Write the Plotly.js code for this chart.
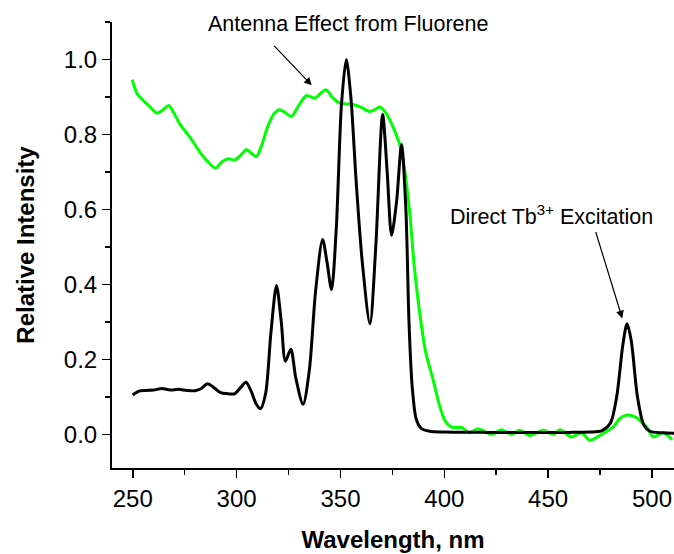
<!DOCTYPE html>
<html>
<head>
<meta charset="utf-8">
<script src="https://cdn.plot.ly/plotly-3.0.1.min.js"></script>
<style>html,body{margin:0;padding:0;background:#fff}#chart{width:674px;height:554px}</style>
</head>
<body>
<div id="chart"></div>
<script>
// Black spectrum (Tb3+ sensitized excitation)
const blackX = [250,253,256,260,264,268,272,276,280,283,286,289,292,296,299,302,304.5,307,309.5,311.5,314,316.5,319.2,321.5,323.5,326.1,328.5,332,335,338,341.4,343.5,345.7,348,350.5,352.8,355,357.5,360.5,364.2,367,370.3,372.5,374.6,377,379.4,381.5,383,384.5,386.5,389,393,400,420,440,460,470,476,480,483,486,488,490,493,496,499,505,511];
const blackY = [0.105,0.115,0.117,0.118,0.122,0.118,0.120,0.117,0.116,0.122,0.135,0.125,0.112,0.108,0.108,0.125,0.139,0.115,0.080,0.068,0.110,0.270,0.397,0.300,0.195,0.227,0.150,0.080,0.170,0.380,0.520,0.460,0.386,0.550,0.880,1.000,0.900,0.680,0.460,0.295,0.500,0.853,0.700,0.531,0.620,0.773,0.600,0.300,0.130,0.040,0.015,0.008,0.006,0.005,0.005,0.005,0.006,0.010,0.030,0.100,0.240,0.295,0.250,0.100,0.025,0.008,0.004,0.003];

// Green spectrum (fluorene antenna)
const greenX = [249.7,252,254.2,258,261.7,264.5,267.3,270,272.6,277.5,282.3,286,289.8,293,295.9,299.1,302,304.8,307,309.6,312,315.2,318,320.8,323.5,326.4,330,333.7,337.7,340.5,343,346,349.4,356.1,360,364.2,366.5,369,371.5,375.4,379.4,381.5,383.4,385.5,388.2,391,394.7,397.9,400.5,403.5,406,408.3,412.3,416.3,422.8,427.6,432.4,436.4,441.2,447.6,452.5,455.7,461.3,466.1,470.1,475.8,481.4,484.5,487.8,490,492.6,495,497.4,500.6,505.4,509.6];
const greenY = [0.946,0.910,0.895,0.875,0.857,0.865,0.877,0.855,0.828,0.793,0.753,0.728,0.710,0.727,0.735,0.732,0.745,0.760,0.750,0.741,0.770,0.824,0.855,0.866,0.858,0.848,0.878,0.904,0.897,0.910,0.919,0.900,0.884,0.880,0.872,0.861,0.866,0.873,0.860,0.819,0.757,0.680,0.589,0.450,0.322,0.220,0.144,0.073,0.035,0.019,0.018,0.018,0.004,0.015,0.000,0.012,0.000,0.011,-0.003,0.011,0.000,0.012,-0.007,0.004,-0.016,0.000,0.020,0.042,0.051,0.050,0.044,0.033,0.020,-0.007,0.004,-0.014];

const xTicks = [250,300,350,400,450,500];
const yTicks = [0.0,0.2,0.4,0.6,0.8,1.0];

const font = "Liberation Sans, Arial, sans-serif";

const traces = [
  {x: greenX, y: greenY, type: 'scatter', mode: 'lines',
   line: {color: '#00ff00', width: 3, shape: 'spline', smoothing: 0.8}, hoverinfo: 'skip'},
  {x: blackX, y: blackY, type: 'scatter', mode: 'lines',
   line: {color: '#000000', width: 3, shape: 'spline', smoothing: 0.8}, hoverinfo: 'skip'}
];

const layout = {
  width: 674, height: 554,
  margin: {l: 112, r: 0, t: 22, b: 86},
  paper_bgcolor: '#fff', plot_bgcolor: '#fff',
  showlegend: false,
  font: {family: font, color: '#000'},
  xaxis: {
    range: [240, 510.6], showgrid: false, zeroline: false,
    showline: true, linecolor: '#000', linewidth: 2, mirror: false,
    ticks: 'outside', ticklen: 8, tickwidth: 1.5, tickcolor: '#000',
    tickvals: xTicks, ticktext: xTicks.map(String),
    tickfont: {size: 24, family: font, color: '#000'},
    minor: {dtick: 25, tick0: 250, ticks: 'outside', ticklen: 5, tickwidth: 1.5, tickcolor: '#000'},
    title: {text: '<b>Wavelength, nm</b>', font: {size: 24, family: font, color: '#000'}, standoff: 20}
  },
  yaxis: {
    range: [-0.09, 1.1], showgrid: false, zeroline: false,
    showline: true, linecolor: '#000', linewidth: 2, mirror: false,
    ticks: 'outside', ticklen: 8, tickwidth: 1.5, tickcolor: '#000',
    tickvals: yTicks, ticktext: yTicks.map(v => v.toFixed(1)),
    tickfont: {size: 24, family: font, color: '#000'},
    minor: {dtick: 0.1, tick0: 0, ticks: 'outside', ticklen: 5, tickwidth: 1.5, tickcolor: '#000'},
    title: {text: '<b>Relative Intensity</b>', font: {size: 24, family: font, color: '#000'}, standoff: 22}
  },
  annotations: [
    {text: 'Antenna Effect from Fluorene', xref: 'paper', yref: 'paper',
     x: (348-112)/562, y: (554-86-24)/446, xanchor: 'center', yanchor: 'middle',
     showarrow: false, font: {size: 21.5, family: font, color: '#000'}},
    {x: 336.2, y: 0.931, xref: 'x', yref: 'y', text: '', showarrow: true,
     arrowhead: 2, arrowsize: 1.3, arrowwidth: 1.2, arrowcolor: '#000',
     ax: -39, ay: -41},
    {text: 'Direct Tb<sup>3+</sup> Excitation', xref: 'paper', yref: 'paper',
     x: (551-112)/562, y: (554-86-215)/446, xanchor: 'center', yanchor: 'middle',
     showarrow: false, font: {size: 21.5, family: font, color: '#000'}},
    {x: 485.7, y: 0.309, xref: 'x', yref: 'y', text: '', showarrow: true,
     arrowhead: 2, arrowsize: 1.3, arrowwidth: 1.2, arrowcolor: '#000',
     ax: -27, ay: -88}
  ]
};

Plotly.newPlot('chart', traces, layout, {staticPlot: true, displayModeBar: false});
</script>
</body>
</html>
